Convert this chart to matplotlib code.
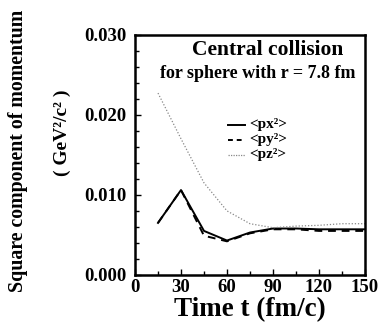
import matplotlib
matplotlib.use('Agg')
import matplotlib.pyplot as plt
from matplotlib.ticker import MultipleLocator

# ---------------------------------------------------------------------------
# Data
# ---------------------------------------------------------------------------
TIME = [15, 30, 45, 60, 75, 90, 105, 120, 135, 150]
PX2 = [0.0065, 0.0106, 0.0055, 0.0043, 0.0053, 0.0058, 0.0058, 0.0057, 0.0057, 0.0057]
PY2 = [0.0065, 0.0106, 0.0049, 0.0042, 0.0052, 0.0057, 0.0057, 0.0055, 0.0055, 0.0055]
PZ2 = [0.0227, 0.0170, 0.0115, 0.0080, 0.0064, 0.0059, 0.0061, 0.0062, 0.0064, 0.0064]

X_TICKS = [0, 30, 60, 90, 120, 150]
Y_TICKS = [0.000, 0.010, 0.020, 0.030]

FONT = 'Liberation Serif'

plt.rcParams['font.family'] = FONT
plt.rcParams['font.weight'] = 'bold'

fig = plt.figure(figsize=(3.82, 3.28), dpi=100, facecolor='white')
ax = fig.add_axes([0.3534, 0.1616, 0.602, 0.733])

ax.plot(TIME, PX2, color='black', lw=1.4, ls='-')
ax.plot(TIME, PY2, color='black', lw=1.4, ls=(0, (4, 3)))
ax.plot(TIME, PZ2, color='#888888', lw=0.9, ls=(0, (1, 1.5)))

ax.set_xlim(0, 150)
ax.set_ylim(0, 0.030)
ax.set_xticks(X_TICKS)
ax.set_yticks(Y_TICKS)
ax.set_yticklabels([f'{v:.3f}' for v in Y_TICKS])
ax.xaxis.set_minor_locator(MultipleLocator(15))
ax.yaxis.set_minor_locator(MultipleLocator(0.002))
ax.tick_params(which='both', direction='in', labelsize=13.5, width=1.0)
ax.tick_params(which='major', length=4)
ax.tick_params(which='minor', length=3)
ax.tick_params(axis='x', pad=3)
ax.tick_params(axis='y', pad=6)
for lab in ax.get_xticklabels() + ax.get_yticklabels():
    lab.set_fontweight('bold')
for sp in ax.spines.values():
    sp.set_linewidth(1.8)

ax.set_xlabel('Time t (fm/c)', fontsize=19.5, fontweight='bold', labelpad=1)

# y labels (two lines, placed in figure coords)
fig.text(0.047, 0.54, 'Square component of momentum', rotation=90,
         ha='center', va='center', fontsize=14.3, fontweight='bold')
fig.text(0.162, 0.595, '( GeV²/c² )', rotation=90,
         ha='center', va='center', fontsize=14, fontweight='bold')

# annotation text
ax.text(0.578, 0.935, 'Central collision', transform=ax.transAxes,
        ha='center', va='center', fontsize=15.5, fontweight='bold')
ax.text(0.535, 0.84, 'for sphere with r = 7.8 fm', transform=ax.transAxes,
        ha='center', va='center', fontsize=13, fontweight='bold')

# legend
LEG_LABELS = ['<px²>', '<py²>', '<pz²>']
LEG_STYLES = [('-', 'black', 1.4), ((0, (2.5, 2)), 'black', 1.4),
              ((0, (1, 1)), '#888888', 0.9)]
leg_y = [0.625, 0.5625, 0.50]
for lab, (ls, c, lw), y in zip(LEG_LABELS, LEG_STYLES, leg_y):
    ax.plot([0.404, 0.478], [y, y], transform=ax.transAxes, color=c,
            ls=ls, lw=lw)
    ax.text(0.497, y, lab, transform=ax.transAxes, ha='left', va='center',
            fontsize=11, fontweight='bold')

fig.savefig('out.png', dpi=100, facecolor='white')
